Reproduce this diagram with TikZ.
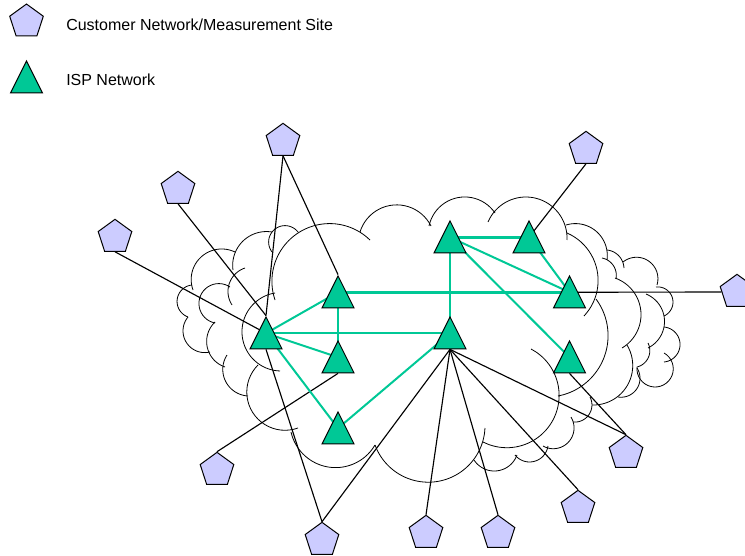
\documentclass[tikz,border=0pt]{standalone}
\usepackage{fontspec}
\setmainfont{Liberation Sans}
\usetikzlibrary{shapes.geometric,backgrounds}
\definecolor{ispcol}{HTML}{00C896}
\definecolor{sitecol}{HTML}{CCCCFF}
\tikzset{
  isp/.style={draw=black, fill=ispcol, line width=0.75pt, isosceles triangle, isosceles triangle stretches, shape border rotate=90, inner sep=0pt, minimum width=24pt, minimum height=24pt},
  site/.style={draw=black, fill=sitecol, line width=0.75pt, regular polygon, regular polygon sides=5, inner sep=0pt, minimum size=26.5pt},
  legend/.style={anchor=west, font=\fontsize{12pt}{14pt}\selectfont, inner sep=0pt},
  link/.style={draw=black, line width=0.85pt},
  core/.style={draw=ispcol, line width=1.5pt},
  corethick/.style={draw=ispcol, line width=2.1pt},
  cloudarc/.style={draw=black, line width=0.6pt}
}
% arc of a circle through three points, given in pixels
\newcommand{\cloudpart}[6]{
  \pgfmathsetmacro{\ax}{(#3-#1)/100}
  \pgfmathsetmacro{\ay}{(#4-#2)/100}
  \pgfmathsetmacro{\bx}{(#5-#1)/100}
  \pgfmathsetmacro{\by}{(#6-#2)/100}
  \pgfmathsetmacro{\dd}{2*(\ax*\by-\ay*\bx)}
  \pgfmathsetmacro{\ux}{(\by*(\ax*\ax+\ay*\ay)-\ay*(\bx*\bx+\by*\by))/\dd}
  \pgfmathsetmacro{\uy}{(\ax*(\bx*\bx+\by*\by)-\bx*(\ax*\ax+\ay*\ay))/\dd}
  \pgfmathsetmacro{\rr}{100*sqrt(\ux*\ux+\uy*\uy)}
  \pgfmathsetmacro{\aa}{atan2(-\uy,-\ux)}
  \pgfmathsetmacro{\ab}{atan2(\by-\uy,\bx-\ux)}
  \pgfmathsetmacro{\ab}{\dd>0 ? (\ab<\aa ? \ab+360 : \ab) : (\ab>\aa ? \ab-360 : \ab)}
  \draw[cloudarc] plot[smooth, variable=\t, domain=\aa:\ab, samples=25] ({#1+100*\ux+\rr*cos(\t)},{#2+100*\uy+\rr*sin(\t)});
}
\begin{document}
\begin{tikzpicture}[x=0.75pt, y=-0.75pt]
\useasboundingbox (0,0) rectangle (745,556);
\node[site] (keysite) at (26.5,21.7) {};
\node[legend] (keysitetext) at (66,25) {Customer Network/Measurement Site};
\node[isp] (keyisp) at (26.5,83) {};
\node[legend] (keyisptext) at (66,79.5) {ISP Network};
\node[isp] (ispA) at (266,339) {};
\node[isp] (ispB) at (338,298) {};
\node[isp] (ispC) at (338,363) {};
\node[isp] (ispD) at (338,434) {};
\node[isp] (ispE) at (450,243) {};
\node[isp] (ispF) at (529,243) {};
\node[isp] (ispG) at (569.5,298) {};
\node[isp] (ispH) at (569.5,363) {};
\node[isp] (ispI) at (450,339) {};
\foreach \n in {A,...,I}
  \coordinate (mid\n) at ([yshift=4.3pt]isp\n.center);
\node[site] (siteA) at (283,141) {};
\node[site] (siteB) at (178,189) {};
\node[site] (siteC) at (115,237) {};
\node[site] (siteD) at (586,149) {};
\node[site] (siteE) at (737,292) {};
\node[site] (siteF) at (217,470) {};
\node[site] (siteG) at (322,540) {};
\node[site] (siteH) at (426,533) {};
\node[site] (siteI) at (498,533) {};
\node[site] (siteJ) at (578,508) {};
\node[site] (siteK) at (626,453) {};
\begin{scope}[on background layer]
\cloudpart{275}{300}{310}{227}{370}{240}
\cloudpart{360}{232}{400}{205}{431}{226}
\cloudpart{429}{226}{463}{197}{495}{213}
\cloudpart{488}{222}{525}{197}{567}{240}
\cloudpart{566}{225}{597}{232}{607}{260}
\cloudpart{567}{233}{598}{277}{584}{316}
\cloudpart{596}{299}{607}{347}{558}{396}
\cloudpart{531}{349}{553}{420}{483}{442}
\cloudpart{375}{445}{440}{481}{485}{428}
\cloudpart{474}{460}{493}{471}{517}{455}
\cloudpart{515}{455}{530}{462}{548}{446}
\cloudpart{543}{446}{572}{437}{571}{417}
\cloudpart{573}{422}{587}{417}{590}{397}
\cloudpart{592}{405}{630}{380}{627}{345}
\cloudpart{622}{348}{641}{313}{615}{278}
\cloudpart{602}{258}{613}{265}{616}{279}
\cloudpart{607}{250}{618}{255}{624}{268}
\cloudpart{623}{262}{653}{265}{657}{285}
\cloudpart{656}{287}{673}{302}{664}{316}
\cloudpart{646}{294}{664}{327}{648}{348}
\cloudpart{664}{327}{680}{343}{664}{362}
\cloudpart{664}{353}{640}{379}{637}{367}
\cloudpart{648}{343}{647}{360}{637}{367}
\cloudpart{637}{368}{630}{395}{618}{397}
\cloudpart{272}{232}{235}{253}{233}{270}
\cloudpart{298}{232}{272}{232}{272}{252}
\cloudpart{235}{252}{200}{258}{193}{290}
\cloudpart{245}{268}{228}{290}{232}{305}
\cloudpart{230}{287}{199}{305}{215}{323}
\cloudpart{192}{285}{178}{307}{188}{317}
\cloudpart{188}{317}{183}{330}{210}{352}
\cloudpart{215}{322}{207}{337}{225}{367}
\cloudpart{227}{355}{223}{373}{248}{396}
\cloudpart{275}{293}{242}{330}{280}{371}
\cloudpart{258}{365}{253}{413}{298}{428}
\cloudpart{291}{432}{343}{467}{375}{445}
\draw[link] (siteA.south) -- (ispA.north);
\draw[link] (siteA.south) -- (ispB.north);
\draw[link] (siteB.south) -- (ispA.north);
\draw[link] (siteC.south) -- (midA);
\draw[link] (siteD.south) -- (midF);
\draw[link] (siteE.west) -- (midG);
\draw[link] (siteF.north) -- (ispC.south);
\draw[link] (siteG.north) -- (ispA.south);
\draw[link] (siteG.north) -- (ispI.south);
\draw[link] (siteH.north) -- (ispI.south);
\draw[link] (siteI.north) -- (ispI.south);
\draw[link] (siteJ.north) -- (ispI.south);
\draw[link] (siteK.north) -- (ispI.south);
\draw[link] (siteK.north) -- (ispH.south);
\draw[core] (midA) -- (midB);
\draw[core] (midA) -- (midI);
\draw[core] (midA) -- (midC);
\draw[core] (midA) -- (midD);
\draw[core] (midB) -- (midC);
\draw[corethick] (midB) -- (midG);
\draw[corethick] (midE) -- (midF);
\draw[core] (midE) -- (midG);
\draw[core] (midF) -- (midG);
\draw[core] (midE) -- (midH);
\draw[core] (midE) -- (midI);
\draw[core] (midI) -- (midD);
\end{scope}
\end{tikzpicture}
\end{document}
